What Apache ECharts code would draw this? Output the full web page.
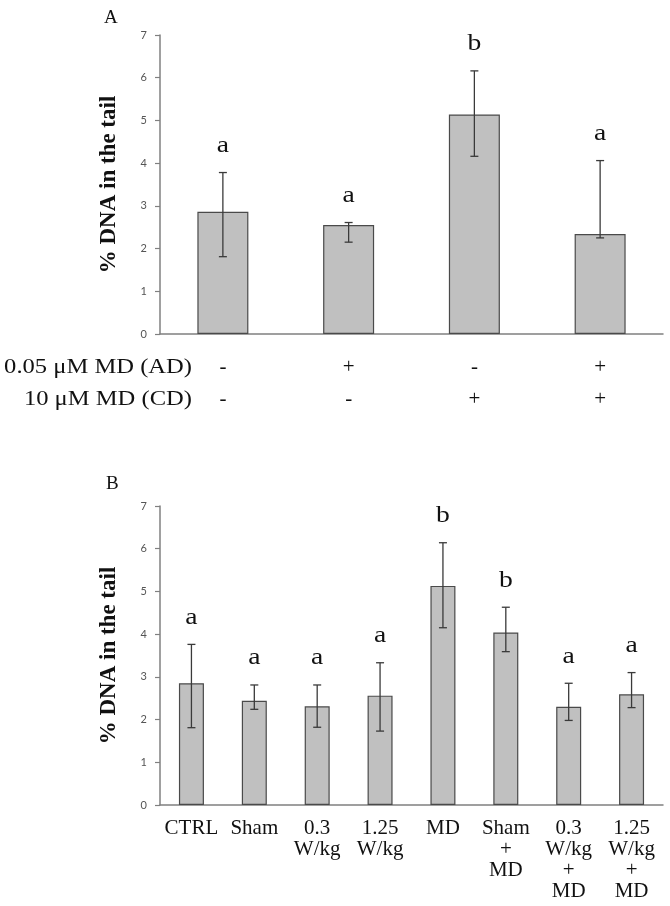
<!DOCTYPE html>
<html>
<head>
<meta charset="utf-8">
<script src="https://cdn.jsdelivr.net/npm/echarts@6/dist/echarts.min.js"></script>
<style>
html,body{margin:0;padding:0;background:#fff;}
#chart{width:670px;height:906px;}
</style>
</head>
<body>
<div id="chart"></div>
<script>
// ---- Panel A data ----
const catsA = ['g1', 'g2', 'g3', 'g4'];
const adRow = ['-', '+', '-', '+'];
const cdRow = ['-', '-', '+', '+'];
const rowTitlesA = ['0.05 \u03BCM MD (AD)', '10 \u03BCM MD (CD)'];
const meanA = [2.86, 2.55, 5.14, 2.34];
const errLowA = [1.81, 2.15, 4.16, 2.25];
const errHighA = [3.78, 2.61, 6.16, 4.06];
const lettersA = ['a', 'a', 'b', 'a'];

// ---- Panel B data ----
const catsB = ['CTRL', 'Sham', '0.3\nW/kg', '1.25\nW/kg', 'MD', 'Sham\n+\nMD', '0.3\nW/kg\n+\nMD', '1.25\nW/kg\n+\nMD'];
const meanB = [2.85, 2.44, 2.31, 2.56, 5.13, 4.04, 2.30, 2.59];
const errLowB = [1.81, 2.24, 1.82, 1.73, 4.15, 3.59, 1.98, 2.28];
const errHighB = [3.76, 2.81, 2.81, 3.33, 6.14, 4.63, 2.85, 3.10];
const lettersB = ['a', 'a', 'a', 'a', 'b', 'b', 'a', 'a'];

const yTicks = [0, 1, 2, 3, 4, 5, 6, 7];
const yName = '% DNA in the tail';

const SERIF = '"Liberation Serif", "Times New Roman", serif';

function errRender(letters) {
  return function (params, api) {
    const i = api.value(0);
    const x = api.coord([i, 0])[0];
    const yLo = api.coord([i, api.value(1)])[1];
    const yHi = api.coord([i, api.value(2)])[1];
    const half = 4;
    const st = { stroke: '#3a3a3a', lineWidth: 1.3 };
    return {
      type: 'group',
      children: [
        { type: 'line', shape: { x1: x, y1: yLo, x2: x, y2: yHi }, style: st },
        { type: 'line', shape: { x1: x - half, y1: yHi, x2: x + half, y2: yHi }, style: st },
        { type: 'line', shape: { x1: x - half, y1: yLo, x2: x + half, y2: yLo }, style: st },
        { type: 'text', x: x, y: yHi - 27, scaleX: 1.15,
          style: { text: letters[i], x: 0, y: 0, textAlign: 'center', textVerticalAlign: 'middle',
          font: '24px ' + SERIF, fill: '#111' } }
      ]
    };
  };
}

function yAxisCfg(gridIndex) {
  return {
    type: 'value', gridIndex: gridIndex, min: yTicks[0], max: yTicks[yTicks.length - 1], interval: 1,
    name: yName, nameLocation: 'middle', nameGap: 39,
    nameTextStyle: { fontFamily: SERIF, fontWeight: 'bold', fontSize: 23, color: '#111' },
    axisLine: { show: true, lineStyle: { color: '#808080', width: 1.5 } },
    axisTick: { show: true, inside: false, length: 5, lineStyle: { color: '#808080', width: 1.2 } },
    axisLabel: { fontFamily: 'Lato, "Open Sans", sans-serif', fontSize: 11, color: '#555', margin: 13 },
    splitLine: { show: false }
  };
}

const chart = echarts.init(document.getElementById('chart'), null, { renderer: 'canvas' });

const option = {
  backgroundColor: '#fff',
  animation: false,
  title: [
    { text: 'A', left: 99, top: 4, textStyle: { fontFamily: SERIF, fontWeight: 'normal', fontSize: 19, color: '#111' } },
    { text: 'B', left: 101, top: 470, textStyle: { fontFamily: SERIF, fontWeight: 'normal', fontSize: 19, color: '#111' } }
  ],
  grid: [
    { left: 160, top: 35, width: 503, height: 299 },
    { left: 160, top: 506, width: 503, height: 299 }
  ],
  xAxis: [
    {
      type: 'category', gridIndex: 0, data: catsA,
      axisLine: { show: true, lineStyle: { color: '#808080', width: 1.5 } },
      axisTick: { show: false },
      axisLabel: {
        interval: 0, margin: 17, fontFamily: SERIF, fontSize: 21, lineHeight: 32, color: '#111',
        formatter: function (v, i) { return adRow[i] + '\n' + cdRow[i]; }
      }
    },
    {
      type: 'category', gridIndex: 1, data: catsB,
      axisLine: { show: true, lineStyle: { color: '#808080', width: 1.5 } },
      axisTick: { show: false },
      axisLabel: { interval: 0, margin: 13, fontFamily: SERIF, fontSize: 21, lineHeight: 21, color: '#111' }
    }
  ],
  yAxis: [yAxisCfg(0), yAxisCfg(1)],
  graphic: [
    { type: 'text', x: 192, y: 367, scaleX: 1.17,
      style: { text: rowTitlesA[0], x: 0, y: 0, font: '21px ' + SERIF, fill: '#111', textAlign: 'right', textVerticalAlign: 'middle' } },
    { type: 'text', x: 192, y: 399, scaleX: 1.17,
      style: { text: rowTitlesA[1], x: 0, y: 0, font: '21px ' + SERIF, fill: '#111', textAlign: 'right', textVerticalAlign: 'middle' } }
  ],
  series: [
    {
      type: 'bar', xAxisIndex: 0, yAxisIndex: 0, data: meanA, barWidth: 51,
      itemStyle: { color: '#c0c0c0', borderColor: '#4a4a4a', borderWidth: 1.2 }
    },
    {
      type: 'custom', xAxisIndex: 0, yAxisIndex: 0, z: 5,
      renderItem: errRender(lettersA),
      encode: { x: 0, y: [1, 2] },
      data: meanA.map(function (_, i) { return [i, errLowA[i], errHighA[i]]; })
    },
    {
      type: 'bar', xAxisIndex: 1, yAxisIndex: 1, data: meanB, barWidth: 25,
      itemStyle: { color: '#c0c0c0', borderColor: '#4a4a4a', borderWidth: 1.2 }
    },
    {
      type: 'custom', xAxisIndex: 1, yAxisIndex: 1, z: 5,
      renderItem: errRender(lettersB),
      encode: { x: 0, y: [1, 2] },
      data: meanB.map(function (_, i) { return [i, errLowB[i], errHighB[i]]; })
    }
  ]
};
chart.setOption(option);
</script>
</body>
</html>
